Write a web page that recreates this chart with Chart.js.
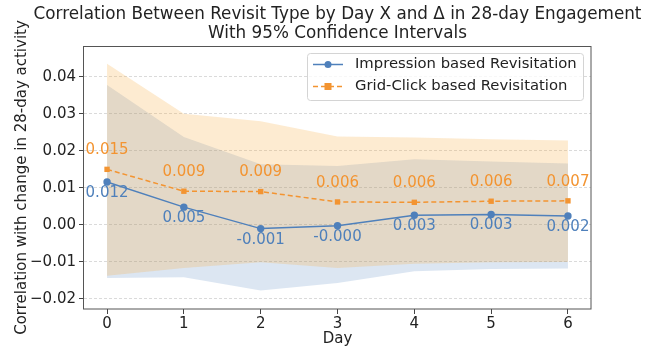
<!DOCTYPE html>
<html>
<head>
<meta charset="utf-8">
<script src="https://cdn.jsdelivr.net/npm/chart.js@4/dist/chart.umd.min.js"></script>
<style>
  html, body { margin: 0; padding: 0; background: #fff; }
  #wrap { width: 652px; height: 349px; }
</style>
</head>
<body>
<div id="wrap"><canvas id="c" width="652" height="349"></canvas></div>
<script>
// ---- data ----
const days = [0, 1, 2, 3, 4, 5, 6];
const impressionCorr = [0.0116, 0.0048, -0.0010, -0.0002, 0.0026, 0.0028, 0.0024];
const impressionLower = [-0.0143, -0.0141, -0.0177, -0.0157, -0.0125, -0.0119, -0.0118];
const impressionUpper = [0.0378, 0.0237, 0.0164, 0.0159, 0.0177, 0.0171, 0.0166];
const gridClickCorr = [0.0150, 0.0091, 0.0090, 0.0062, 0.0061, 0.0064, 0.0065];
const gridClickLower = [-0.0137, -0.0116, -0.0101, -0.0116, -0.0105, -0.0101, -0.0100];
const gridClickUpper = [0.0435, 0.0300, 0.0280, 0.0239, 0.0236, 0.0231, 0.0228];
const impressionLabels = ['0.012', '0.005', '-0.001', '-0.000', '0.003', '0.003', '0.002'];
const gridClickLabels = ['0.015', '0.009', '0.009', '0.006', '0.006', '0.006', '0.007'];
const yTicks = [-0.02, -0.01, 0.00, 0.01, 0.02, 0.03, 0.04];
const xTicks = [0, 1, 2, 3, 4, 5, 6];
const seriesNames = ['Impression based Revisitation', 'Grid-Click based Revisitation'];
const titleLines = ['Correlation Between Revisit Type by Day X and \u0394 in 28-day Engagement', 'With 95% Confidence Intervals'];

const BLUE = '#4f80bb';
const ORANGE = '#f39431';
const FONT = 'DejaVu Sans';

const pts = arr => days.map((d, i) => ({ x: d, y: arr[i] }));

// title + data labels + frame + legend plugin
const decor = {
  id: 'decor',
  afterDatasetsDraw(chart) {
    const ctx = chart.ctx;
    const a = chart.chartArea;
    ctx.save();
    // title, centred over the axes
    ctx.fillStyle = '#222';
    ctx.font = '16.8px "' + FONT + '"';
    ctx.textAlign = 'center';
    ctx.textBaseline = 'middle';
    const cx = (a.left + a.right) / 2;
    titleLines.forEach((t, i) => ctx.fillText(t, cx, a.top - 31 + i * 18.5));

    ctx.font = '15px "' + FONT + '"';
    const m0 = chart.getDatasetMeta(0);
    const m1 = chart.getDatasetMeta(1);
    m0.data.forEach((p, i) => {
      ctx.fillStyle = BLUE;
      ctx.fillText(impressionLabels[i], p.x, p.y + 11);
    });
    m1.data.forEach((p, i) => {
      ctx.fillStyle = ORANGE;
      ctx.fillText(gridClickLabels[i], p.x, p.y - 19);
    });
    // frame
    ctx.strokeStyle = '#555';
    ctx.lineWidth = 1;
    ctx.strokeRect(Math.round(a.left) - 0.5, Math.round(a.top) + 0.5, Math.round(a.right - a.left) + 0.5, Math.round(a.bottom - a.top) - 0.5);
    // legend
    const bw = 276, bh = 47;
    const bx = a.right - 8 - bw, by = a.top + 7;
    ctx.beginPath();
    if (ctx.roundRect) ctx.roundRect(bx + 0.5, by + 0.5, bw, bh, 3); else ctx.rect(bx + 0.5, by + 0.5, bw, bh);
    ctx.fillStyle = 'rgba(255,255,255,0.8)';
    ctx.fill();
    ctx.strokeStyle = '#d4d4d4';
    ctx.stroke();
    const rows = [
      { name: seriesNames[0], color: BLUE, dash: [], marker: 'circle' },
      { name: seriesNames[1], color: ORANGE, dash: [5, 3], marker: 'square' }
    ];
    rows.forEach((r, i) => {
      const cy = by + 11.5 + i * 22;
      ctx.strokeStyle = r.color;
      ctx.lineWidth = 1.5;
      ctx.setLineDash(r.dash);
      ctx.beginPath();
      ctx.moveTo(bx + 6, cy);
      ctx.lineTo(bx + 36, cy);
      ctx.stroke();
      ctx.setLineDash([]);
      ctx.fillStyle = r.color;
      if (r.marker === 'circle') {
        ctx.beginPath();
        ctx.arc(bx + 21, cy, 3.5, 0, Math.PI * 2);
        ctx.fill();
      } else {
        ctx.fillRect(bx + 21 - 3.5, cy - 3.5, 7, 7);
      }
      ctx.fillStyle = '#222';
      ctx.textAlign = 'left';
      ctx.textBaseline = 'middle';
      ctx.font = '14.8px "' + FONT + '"';
      ctx.fillText(r.name, bx + 48, cy);
    });
    ctx.restore();
  }
};

const fmt = v => {
  const s = Math.abs(v).toFixed(2);
  return (v < -1e-9 ? '\u22120' : '0') + s.slice(1);
};

new Chart(document.getElementById('c'), {
  type: 'line',
  data: {
    datasets: [
      {
        label: seriesNames[0], data: pts(impressionCorr), borderColor: BLUE, backgroundColor: BLUE,
        borderWidth: 1.5, pointRadius: 3.7, pointStyle: 'circle', pointBorderWidth: 0, fill: false, tension: 0
      },
      {
        label: seriesNames[1], data: pts(gridClickCorr), borderColor: ORANGE, backgroundColor: ORANGE,
        borderWidth: 1.5, borderDash: [5, 3], pointRadius: 3.8, pointStyle: 'rect', pointBorderWidth: 0, fill: false, tension: 0
      },
      { label: 'gl', data: pts(gridClickLower), borderWidth: 0, pointRadius: 0, fill: false },
      { label: 'gu', data: pts(gridClickUpper), borderWidth: 0, pointRadius: 0, fill: 2, backgroundColor: 'rgba(247,170,64,0.24)' },
      { label: 'il', data: pts(impressionLower), borderWidth: 0, pointRadius: 0, fill: false },
      { label: 'iu', data: pts(impressionUpper), borderWidth: 0, pointRadius: 0, fill: 4, backgroundColor: 'rgba(79,129,189,0.2)' }
    ]
  },
  options: {
    responsive: false,
    animation: false,
    layout: { padding: { left: 0, right: 61, top: 46, bottom: 0 } },
    plugins: {
      legend: { display: false },
      tooltip: { enabled: false },
      title: { display: false }
    },
    scales: {
      x: {
        type: 'linear', min: -0.3, max: 6.3,
        afterFit: s => { s.height = 40; },
        afterBuildTicks: s => { s.ticks = xTicks.map(v => ({ value: v })); },
        ticks: { color: '#222', font: { family: FONT, size: 15 }, padding: 1, callback: v => String(v), maxRotation: 0, autoSkip: false },
        grid: { drawOnChartArea: false, tickLength: 5, tickColor: '#444', tickWidth: 1 },
        border: { display: false },
        title: { display: true, text: 'Day', color: '#222', font: { family: FONT, size: 15, lineHeight: 1.2 }, padding: { top: 0, bottom: 1 } }
      },
      y: {
        min: -0.0227, max: 0.0483,
        afterFit: s => { s.width = 84; },
        afterBuildTicks: s => { s.ticks = yTicks.map(v => ({ value: v })); },
        ticks: { color: '#222', font: { family: FONT, size: 15 }, padding: 3, callback: v => fmt(v), autoSkip: false },
        grid: { color: '#d0d0d0', lineWidth: 0.8, tickLength: 5, tickColor: '#444', tickWidth: 1 },
        border: { display: false, dash: [3, 2] },
        title: { display: true, text: 'Correlation with change in 28-day activity', color: '#222', font: { family: FONT, size: 15, lineHeight: 1.2 }, padding: { top: 13, bottom: 0 } }
      }
    }
  },
  plugins: [decor]
});
</script>
</body>
</html>
